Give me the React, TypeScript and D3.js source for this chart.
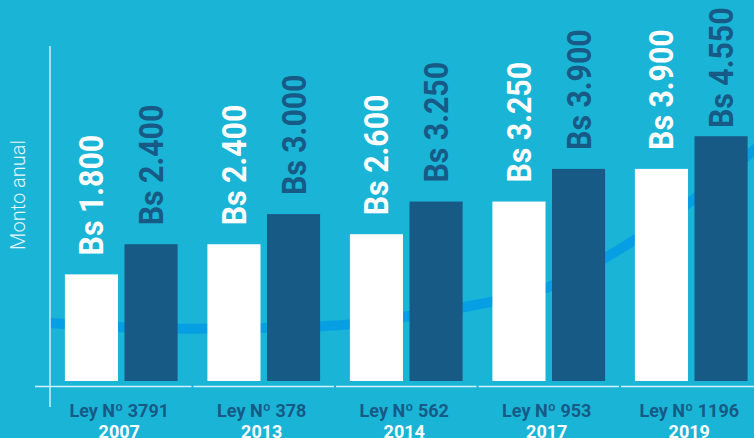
import React from "react";
import * as d3 from "d3";

const laws = ["Ley Nº 3791", "Ley Nº 378", "Ley Nº 562", "Ley Nº 953", "Ley Nº 1196"];
const years = ["2007", "2013", "2014", "2017", "2019"];
const previousAmount = [1800, 2400, 2600, 3250, 3900];
const newAmount = [2400, 3000, 3250, 3900, 4550];
// decorative background swoosh, in category units / Bs units
const trendPosition = [0, 0.5, 1, 1.5, 2, 2.5, 3, 3.5, 4, 4.5, 5];
const trendValue = [832, 749, 719, 733, 782, 962, 1200, 1549, 2305, 3261, 4416];
const yAxisTitle = "Monto anual";

const W = 754;
const H = 438;
const BG = "#1ab4d7";
const DARK = "#165a85";
const CURVE = "#079fe3";
const AXIS = "#d2eff7";

const locale = d3.formatLocale({ decimal: ",", thousands: ".", grouping: [3], currency: ["", ""] });
const fmt = locale.format(",");

export default function App() {
  const left = 50;
  const step = 142.5;
  const baseline = 381;
  const labelLen = 119;
  const x = d3.scaleBand<number>().domain(d3.range(laws.length)).range([left, left + step * laws.length]).padding(0);
  const sub = d3.scaleBand<string>().domain(["prev", "new"]).range([0, x.bandwidth()]).paddingInner(0.109).paddingOuter(0.25);
  const y = d3.scaleLinear().domain([0, 6000]).range([364.8, 63.4]);
  const xt = d3.scaleLinear().domain([0, laws.length]).range([left, left + step * laws.length]);
  const axisY = 386.5;

  const line = d3
    .line<number>()
    .x((_, i) => xt(trendPosition[i]))
    .y((v) => y(v))
    .curve(d3.curveMonotoneX);

  const bars: { key: string; v: number; x: number; fill: string; text: string }[] = [];
  laws.forEach((_, i) => {
    bars.push({ key: "p" + i, v: previousAmount[i], x: (x(i) as number) + (sub("prev") as number), fill: "#ffffff", text: "#ffffff" });
    bars.push({ key: "n" + i, v: newAmount[i], x: (x(i) as number) + (sub("new") as number), fill: DARK, text: DARK });
  });
  const bw = sub.bandwidth();

  return (
    <svg width={W} height={H} style={{ position: "absolute", left: 0, top: 0, display: "block" }} fontFamily="Roboto, 'DejaVu Sans', sans-serif">
      <rect x={0} y={0} width={W} height={H} fill={BG} />
      <path d={line(trendValue) || ""} fill="none" stroke={CURVE} strokeWidth={10} />
      {bars.map((b) => (
        <rect key={b.key} x={b.x} y={y(b.v)} width={bw} height={baseline - y(b.v)} fill={b.fill} />
      ))}
      {bars.map((b) => {
        const cx = b.x + bw / 2 + 12;
        const cy = Math.max(y(b.v) - 19, 9 + labelLen);
        return (
          <text
            key={"t" + b.key}
            transform={`translate(${cx},${cy}) rotate(-90) scale(0.89,1)`}
            fill={b.text}
            fontSize={34}
            fontWeight={700}
          >
            {"Bs " + fmt(b.v)}
          </text>
        );
      })}
      {/* axes */}
      <line x1={left} x2={left} y1={46} y2={407} stroke={AXIS} strokeWidth={1.5} />
      {laws.map((_, i) => {
        const x0 = (x(i) as number) + 1;
        const x1 = (x(i) as number) + step - 1;
        return <line key={"ax" + i} x1={i === 0 ? 35 : x0} x2={Math.min(x1, W)} y1={axisY} y2={axisY} stroke={AXIS} strokeWidth={1.5} />;
      })}
      {laws.map((l, i) => {
        const cx = (x(i) as number) + x.bandwidth() / 2 - 2;
        return (
          <g key={"lbl" + i}>
            <text x={cx} y={417} textAnchor="middle" fill={DARK} fontSize={18} fontWeight={700}>
              {l}
            </text>
            <text x={cx} y={438} textAnchor="middle" fill="#ffffff" fontSize={18} fontWeight={700}>
              {years[i]}
            </text>
          </g>
        );
      })}
      <text transform={`translate(25,195) rotate(-90)`} textAnchor="middle" fill="#e8f7fb" fontSize={20} fontWeight={300}>
        {yAxisTitle}
      </text>
    </svg>
  );
}
